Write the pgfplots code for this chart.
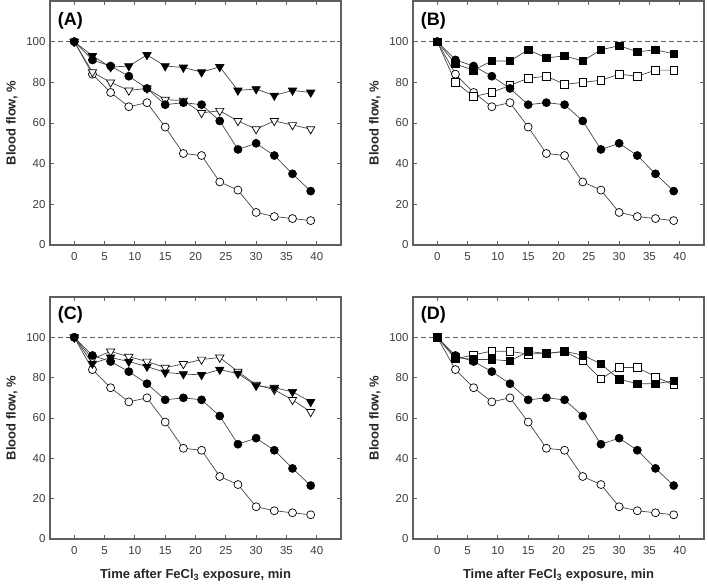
\documentclass[border=0pt]{standalone}
\usepackage{fontspec}
\setmainfont{Liberation Sans}
\usepackage{pgfplots}
\pgfplotsset{compat=1.18}
\definecolor{framegray}{RGB}{95,95,95}
\definecolor{labelgray}{RGB}{60,60,60}
\definecolor{linegray}{RGB}{70,70,70}
\pgfplotsset{
  panel/.style={
    scale only axis, width=291pt, height=243pt,
    xmin=-4, xmax=44, ymin=0, ymax=120,
    xtick={0,5,...,40}, ytick={0,20,...,100},
    tick align=inside, major tick length=4pt,
    axis line style={color=framegray, line width=1.1pt},
    every tick/.style={framegray, line width=0.9pt},
    ticklabel style={font=\fontsize{11.5}{13}\selectfont, text=labelgray},
    xticklabel style={yshift=-4pt},
    yticklabel style={xshift=-1pt},
    /pgf/number format/assume math mode=true,
    ylabel={\bfseries Blood flow, \%},
    ylabel style={at={(axis description cs:-0.131,0.5)}, anchor=center, font=\fontsize{13}{15}\selectfont, text=black!85},
    xlabel style={at={(axis description cs:0.5,-0.149)}, anchor=center, font=\fontsize{13}{15}\selectfont, text=black!85},
    every axis plot/.append style={line width=0.7pt, color=linegray},
  },
  ocirc/.style={mark=*, mark size=4pt, mark options={fill=white, draw=black, line width=0.7pt}},
  fcirc/.style={mark=*, mark size=4pt, mark options={fill=black, draw=black}},
  ftri/.style={mark=triangle*, mark size=4.8pt, mark options={rotate=180, fill=black, draw=black}},
  otri/.style={mark=triangle*, mark size=4.8pt, mark options={rotate=180, fill=white, draw=black, line width=0.7pt}},
  fsq/.style={mark=square*, mark size=3.8pt, mark options={fill=black, draw=black}},
  osq/.style={mark=square*, mark size=3.8pt, mark options={fill=white, draw=black, line width=0.7pt}},
}
\newcommand{\refline}{\addplot[color=framegray, line width=0.9pt, dash pattern=on 5pt off 3pt, mark=none] coordinates {(-4,100) (44,100)};}
\newcommand{\control}{\addplot[ocirc] coordinates {(0,100)(3,84)(6,75)(9,68)(12,70)(15,58)(18,45)(21,44)(24,31)(27,27)(30,16)(33,14)(36,13)(39,12)};}
\newcommand{\fecl}{\addplot[fcirc] coordinates {(0,100)(3,91)(6,88)(9,83)(12,77)(15,69)(18,70)(21,69)(24,61)(27,47)(30,50)(33,44)(36,35)(39,26.5)};}
\begin{document}
\begin{tikzpicture}
\useasboundingbox (0pt,0pt) rectangle (708pt,585pt);
% (A)
\begin{axis}[panel, at={(50pt,340pt)}, anchor=south west, height=244pt]
\refline
\control
\addplot[otri] coordinates {(0,100)(3,85)(6,80)(9,76)(12,77)(15,71.5)(18,71)(21,65)(24,66)(27,61)(30,57)(33,61)(36,59)(39,57)};
\addplot[ftri] coordinates {(0,100)(3,93)(6,87.5)(9,88)(12,93.5)(15,88)(18,87.3)(21,85)(24,87.6)(27,76)(30,76.7)(33,73.5)(36,76)(39,75)};
\fecl
\node[anchor=west, font=\bfseries\fontsize{18}{20}\selectfont] at (rel axis cs:0.015,0.92) {(A)};
\end{axis}
% (B)
\begin{axis}[panel, at={(413pt,340pt)}, anchor=south west, height=244pt]
\refline
\control
\addplot[osq] coordinates {(0,100)(3,80)(6,73)(9,75)(12,78.5)(15,82)(18,83)(21,79)(24,80)(27,81)(30,84)(33,83)(36,86)(39,86)};
\fecl
\addplot[fsq] coordinates {(0,100)(3,89)(6,86)(9,90.5)(12,90.5)(15,96)(18,92)(21,93)(24,90.5)(27,96)(30,98)(33,95)(36,96)(39,94)};
\node[anchor=west, font=\bfseries\fontsize{18}{20}\selectfont] at (rel axis cs:0.015,0.92) {(B)};
\end{axis}
% (C)
\begin{axis}[panel, at={(50pt,46pt)}, anchor=south west, height=242pt, xlabel={\bfseries Time after FeCl\textsubscript{3} exposure, min}]
\refline
\control
\addplot[otri] coordinates {(0,100)(3,89.3)(6,93)(9,90.4)(12,88)(15,85)(18,86.8)(21,89)(24,90)(27,83)(30,76.5)(33,74)(36,69)(39,63)};
\addplot[ftri] coordinates {(0,100)(3,87)(6,90)(9,88)(12,85.5)(15,82.6)(18,81.8)(21,81.4)(24,84)(27,82)(30,76)(33,75)(36,73)(39,68)};
\fecl
\node[anchor=west, font=\bfseries\fontsize{18}{20}\selectfont] at (rel axis cs:0.015,0.925) {(C)};
\end{axis}
% (D)
\begin{axis}[panel, at={(413pt,46pt)}, anchor=south west, height=242pt, xlabel={\bfseries Time after FeCl\textsubscript{3} exposure, min}]
\refline
\control
\fecl
\addplot[osq] coordinates {(0,100)(3,89.3)(6,91.3)(9,93.2)(12,93)(15,91.7)(18,92)(21,93)(24,88.3)(27,79.4)(30,85)(33,85)(36,80.5)(39,76.4)};
\addplot[fsq] coordinates {(0,100)(3,90)(6,89)(9,89)(12,88.3)(15,93)(18,92)(21,93)(24,91.2)(27,86.8)(30,79.2)(33,77)(36,77)(39,78.4)};
\node[anchor=west, font=\bfseries\fontsize{18}{20}\selectfont] at (rel axis cs:0.015,0.925) {(D)};
\end{axis}
\end{tikzpicture}
\end{document}
